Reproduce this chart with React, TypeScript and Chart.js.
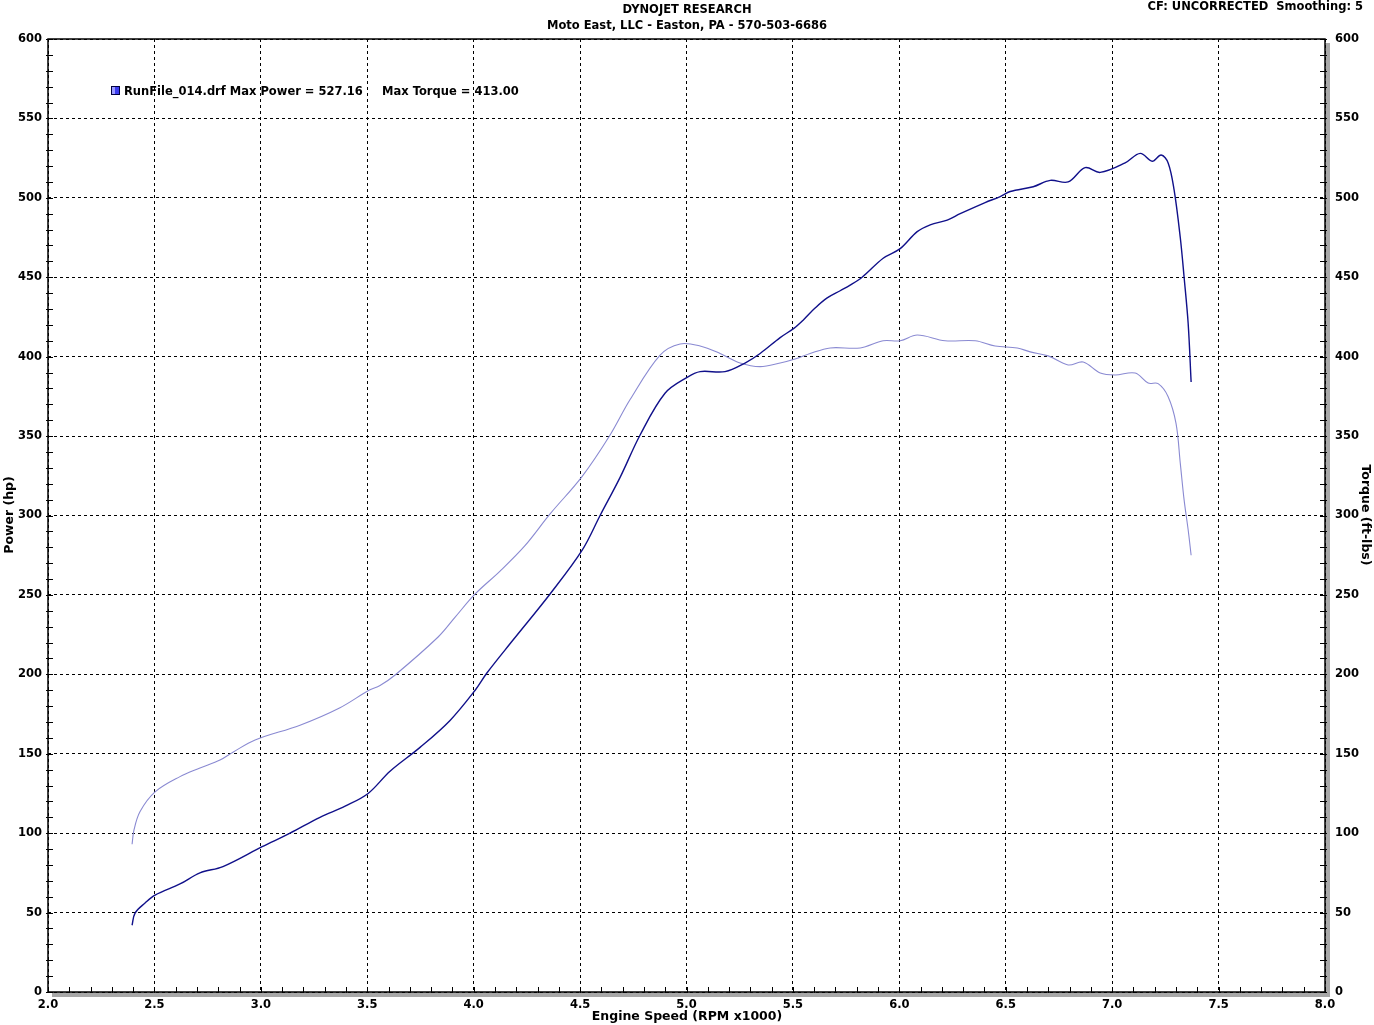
import { useEffect, useRef } from "react";
import { Chart, registerables } from "chart.js";
Chart.register(...registerables);

const titleLine1 = "DYNOJET RESEARCH";
const titleLine2 = "Moto East, LLC - Easton, PA - 570-503-6686";
const cornerText = "CF: UNCORRECTED  Smoothing: 5";
const legendText1 = "RunFile_014.drf Max Power = 527.16";
const legendText2 = "Max Torque = 413.00";
const xTitle = "Engine Speed (RPM x1000)";
const yLeftTitle = "Power (hp)";
const yRightTitle = "Torque (ft-lbs)";

const powerRpm = [2.395, 2.409, 2.456, 2.503, 2.62, 2.714, 2.822, 3.006, 3.137, 3.278, 3.396, 3.504, 3.607, 3.748, 3.889, 4.007, 4.063, 4.185, 4.359, 4.509, 4.594, 4.688, 4.782, 4.899, 5.003, 5.064, 5.181, 5.275, 5.346, 5.44, 5.506, 5.548, 5.604, 5.661, 5.722, 5.769, 5.825, 5.924, 6.004, 6.084, 6.145, 6.225, 6.286, 6.403, 6.474, 6.521, 6.629, 6.709, 6.793, 6.873, 6.944, 7.061, 7.132, 7.188, 7.23, 7.263, 7.291, 7.32, 7.338, 7.357, 7.371];
const powerHp = [42, 49.7, 56, 61, 68, 75, 79, 91.5, 100, 110, 117, 125, 139, 154, 171, 190, 201, 221.6, 250.6, 278, 300, 324, 350.7, 377, 387, 390.6, 390.6, 396, 402, 412, 418, 423, 430.6, 437, 441.5, 445, 450, 462, 468, 478.7, 483, 486, 490, 497, 500.8, 504, 507, 511, 510, 519, 516, 522, 528, 523, 527, 522, 505, 475, 450, 421, 384];

const torqueRpm = [2.395, 2.404, 2.432, 2.503, 2.62, 2.714, 2.808, 2.869, 2.973, 3.184, 3.372, 3.508, 3.56, 3.631, 3.833, 3.913, 4.007, 4.124, 4.241, 4.359, 4.509, 4.641, 4.735, 4.876, 4.97, 5.064, 5.158, 5.252, 5.346, 5.44, 5.51, 5.581, 5.675, 5.816, 5.924, 6.004, 6.084, 6.215, 6.356, 6.45, 6.554, 6.615, 6.699, 6.793, 6.864, 6.944, 7.014, 7.108, 7.169, 7.216, 7.263, 7.3, 7.32, 7.338, 7.357, 7.371];
const torqueFtLb = [93, 102, 113.5, 126, 135.6, 141, 146, 151, 158.7, 168, 179, 190, 193, 199.6, 223.5, 236, 250.6, 265, 281, 301, 324.5, 350.7, 373, 401, 408, 406.7, 402, 396, 393.7, 396, 398.5, 402, 405.5, 405.5, 410, 410, 413.6, 410, 410, 406.7, 405.5, 403, 400.5, 394.8, 396.6, 389.7, 388.5, 389.7, 383.4, 383, 374.8, 358, 333, 309.8, 291, 275];

const xMin = 2.0;
const xMax = 8.0;
const yMin = 0;
const yMax = 600;

const FONT = '"DejaVu Sans", Verdana, sans-serif';
const isMajorX = (v: number) => Math.abs(v * 2 - Math.round(v * 2)) < 1e-6;
const isMajorY = (v: number) => Math.abs(v / 50 - Math.round(v / 50)) < 1e-6;

const decorPlugin = {
  id: "decor",
  beforeDraw(chart: any) {
    const { ctx, chartArea: a } = chart;
    ctx.save();
    ctx.fillStyle = "#ffffff";
    ctx.fillRect(0, 0, chart.width, chart.height);
    ctx.fillStyle = "#a8a8a8";
    ctx.fillRect(a.right, a.top + 4, 5, a.bottom - a.top + 1);
    ctx.fillRect(a.left + 4, a.bottom, a.right - a.left + 1, 5);
    ctx.restore();
  },
  afterDraw(chart: any) {
    const { ctx, chartArea: a, scales } = chart;
    ctx.save();
    ctx.strokeStyle = "#000";
    ctx.lineWidth = 1.5;
    ctx.setLineDash([]);
    ctx.strokeRect(a.left, a.top, a.right - a.left, a.bottom - a.top);
    ctx.lineWidth = 1;
    ctx.beginPath();
    const ys = scales.y;
    ys.ticks.forEach((t: any) => {
      const py = Math.round(ys.getPixelForValue(t.value)) + 0.5;
      ctx.moveTo(a.left - 2, py);
      ctx.lineTo(a.left + 5, py);
      ctx.moveTo(a.right - 5, py);
      ctx.lineTo(a.right + 2, py);
    });
    const xs = scales.x;
    xs.ticks.forEach((t: any) => {
      const px = Math.round(xs.getPixelForValue(t.value)) + 0.5;
      ctx.moveTo(px, a.bottom - 5);
      ctx.lineTo(px, a.bottom + 1);
    });
    ctx.stroke();

    ctx.fillStyle = "#000";
    ctx.font = `bold 11.5px ${FONT}`;
    ctx.textBaseline = "middle";
    ctx.textAlign = "center";
    ctx.fillText(titleLine1, 687, 10);
    ctx.fillText(titleLine2, 687, 26);
    ctx.textAlign = "right";
    ctx.fillText(cornerText, 1363, 7);

    ctx.fillStyle = "#3c3cf0";
    ctx.fillRect(111, 86, 9, 9);
    ctx.fillStyle = "#9a9aff";
    ctx.fillRect(112, 87, 3, 7);
    ctx.strokeStyle = "#000040";
    ctx.lineWidth = 1;
    ctx.strokeRect(111.5, 86.5, 8, 8);
    ctx.fillStyle = "#000";
    ctx.textAlign = "left";
    ctx.fillText(legendText1, 124, 92);
    ctx.fillText(legendText2, 382, 92);

    ctx.font = `bold 12.5px ${FONT}`;
    ctx.textAlign = "center";
    ctx.fillText(xTitle, 687, 1017);
    ctx.save();
    ctx.translate(10, 515);
    ctx.rotate(-Math.PI / 2);
    ctx.fillText(yLeftTitle, 0, 0);
    ctx.restore();
    ctx.save();
    ctx.translate(1365, 515);
    ctx.rotate(Math.PI / 2);
    ctx.fillText(yRightTitle, 0, 0);
    ctx.restore();
    ctx.restore();
  },
};

export default function App() {
  const ref = useRef<HTMLCanvasElement | null>(null);
  useEffect(() => {
    document.body.style.margin = "0";
    const canvas = ref.current!;
    const tickFont = { family: FONT, size: 11.5, weight: "bold" };
    const chart = new Chart(canvas, {
      type: "line",
      data: {
        datasets: [
          {
            label: "Power",
            data: powerRpm.map((x, i) => ({ x, y: powerHp[i] })),
            borderColor: "#10108a",
            borderWidth: 1.4,
            pointRadius: 0,
            tension: 0.35,
            yAxisID: "y",
          },
          {
            label: "Torque",
            data: torqueRpm.map((x, i) => ({ x, y: torqueFtLb[i] })),
            borderColor: "#8a8ad2",
            borderWidth: 1.1,
            pointRadius: 0,
            tension: 0.35,
            yAxisID: "y2",
          },
        ],
      },
      plugins: [decorPlugin],
      options: {
        animation: false,
        responsive: false,
        maintainAspectRatio: false,
        layout: { padding: { top: 39, left: 0, right: 0, bottom: 0 } },
        plugins: {
          legend: { display: false },
          title: { display: false },
          tooltip: { enabled: false },
        },
        scales: {
          x: {
            type: "linear",
            min: xMin,
            max: xMax,
            afterFit: (s: any) => {
              s.height = 33;
            },
            ticks: {
              stepSize: 0.1,
              autoSkip: false,
              maxRotation: 0,
              padding: 6,
              color: "#000",
              font: tickFont,
              callback: (v: any) => (isMajorX(Number(v)) ? Number(v).toFixed(1) : ""),
            },
            grid: {
              drawTicks: false,
              color: (c: any) => (c.tick && isMajorX(c.tick.value) ? "#000" : "rgba(0,0,0,0)"),
              lineWidth: 1,
            },
            border: { display: false, dash: [3, 3] },
          },
          y: {
            type: "linear",
            position: "left",
            min: yMin,
            max: yMax,
            afterFit: (s: any) => {
              s.width = 48;
            },
            ticks: {
              stepSize: 10,
              autoSkip: false,
              padding: 6,
              color: "#000",
              font: tickFont,
              callback: (v: any) => (isMajorY(Number(v)) ? String(v) : ""),
            },
            grid: {
              drawTicks: false,
              color: (c: any) => (c.tick && isMajorY(c.tick.value) ? "#000" : "rgba(0,0,0,0)"),
              lineWidth: 1,
            },
            border: { display: false, dash: [3, 3] },
          },
          y2: {
            type: "linear",
            position: "right",
            min: yMin,
            max: yMax,
            afterFit: (s: any) => {
              s.width = 49;
            },
            ticks: {
              stepSize: 10,
              autoSkip: false,
              padding: 10,
              color: "#000",
              font: tickFont,
              callback: (v: any) => (isMajorY(Number(v)) ? String(v) : ""),
            },
            grid: { display: false, drawTicks: false },
            border: { display: false },
          },
        },
      },
    } as any);
    return () => chart.destroy();
  }, []);
  return <canvas ref={ref} width={1374} height={1025} style={{ display: "block" }} />;
}
